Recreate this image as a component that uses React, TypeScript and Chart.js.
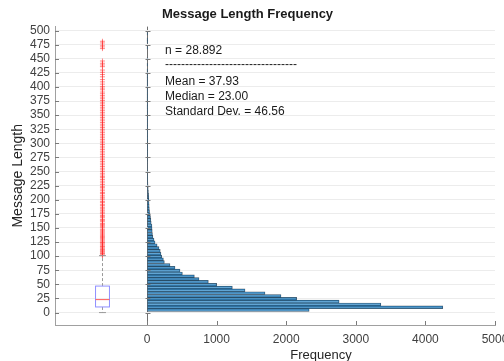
import React, { useEffect, useRef } from 'react';
import { Chart, registerables } from 'chart.js';

Chart.register(...registerables);

const FONT = '"Liberation Sans", Arial, Helvetica, sans-serif';

// Histogram (message length bins of width 5)
const binStart = 2;
const binWidth = 5;
const binCounts = [
  2330, 4250, 3360, 2760, 2150, 1925, 1695, 1408, 1226, 1001,
  881, 747, 680, 508, 474, 402, 330, 249, 235, 211,
  200, 190, 172, 145, 115, 100, 84, 78, 75, 72,
  70, 60, 55, 50, 44, 36, 33, 31, 29, 27,
  25, 23, 20, 17, 15, 13, 11, 10, 9, 9,
  8, 7, 7, 6, 6, 5, 5, 4, 4, 4,
  3, 3, 3, 3, 2, 2, 2, 2, 2, 2,
  2, 2, 1, 2, 1, 1, 1, 1, 1, 1,
  1, 1, 1, 1, 1, 1, 0, 1, 0, 1,
  0, 0, 0, 1, 0, 1, 1, 0, 1, 0,
];

// Boxplot: [min whisker, q1, median, q3, max whisker]
const boxStats = [0, 10, 23, 47, 101];
const boxCenter = -640;
const boxHalfWidth = 100;

const outlierLengths = [
  101, 102, 104, 105, 107, 108, 110, 112, 113, 115, 117, 118, 120, 122, 124, 125, 127, 129, 131, 133,
  135, 137, 139, 141, 143, 145, 147, 150, 152, 154, 156, 158, 161, 163, 165, 168, 170, 172, 175, 177,
  180, 182, 185, 187, 190, 192, 195, 197, 200, 203, 205, 208, 211, 213, 216, 219, 222, 224, 227, 230,
  233, 236, 239, 241, 244, 247, 250, 253, 256, 259, 262, 265, 268, 271, 274, 277, 280, 283, 286, 289,
  292, 295, 298, 301, 304, 307, 310, 313, 316, 319, 322, 325, 328, 331, 334, 337, 340, 343, 346, 349,
  352, 355, 358, 361, 364, 367, 370, 373, 376, 379, 382, 385, 388, 391, 395, 398, 401, 405, 409, 413,
  418, 422, 426, 430, 436, 439, 442, 446, 468, 471, 474, 478, 481,
];

const yTickValues = [0, 25, 50, 75, 100, 125, 150, 175, 200, 225, 250, 275, 300, 325, 350, 375, 400, 425, 450, 475, 500];
const xTickValues = [0, 1000, 2000, 3000, 4000, 5000];

const statLines = [
  'n = 28.892',
  '---------------------------------',
  'Mean = 37.93',
  'Median = 23.00',
  'Standard Dev. = 46.56',
];

const extrasPlugin = {
  id: 'extras',
  afterDatasetsDraw(chart: any) {
    const { ctx, scales, chartArea } = chart;
    const x = scales.x;
    const y = scales.y;
    ctx.save();
    // inner tick marks
    ctx.strokeStyle = '#7a7a7a';
    ctx.lineWidth = 1;
    const x0 = Math.round(x.getPixelForValue(0)) + 0.5;
    for (const v of yTickValues) {
      const py = Math.round(y.getPixelForValue(v)) + 0.5;
      ctx.beginPath();
      ctx.moveTo(chartArea.left, py);
      ctx.lineTo(chartArea.left + 4, py);
      ctx.moveTo(x0 - 2, py);
      ctx.lineTo(x0 + 3, py);
      ctx.stroke();
    }
    for (const v of xTickValues) {
      const px = Math.round(x.getPixelForValue(v)) + 0.5;
      ctx.beginPath();
      ctx.moveTo(px, chartArea.bottom);
      ctx.lineTo(px, chartArea.bottom - 4);
      ctx.stroke();
    }

    // boxplot
    const [mn, q1, med, q3, mx] = boxStats;
    const cx = Math.round(x.getPixelForValue(boxCenter)) + 0.5;
    const hw = Math.abs(x.getPixelForValue(boxCenter + boxHalfWidth) - x.getPixelForValue(boxCenter));
    const pMin = y.getPixelForValue(mn);
    const pQ1 = y.getPixelForValue(q1);
    const pMed = y.getPixelForValue(med);
    const pQ3 = y.getPixelForValue(q3);
    const pMax = y.getPixelForValue(mx);
    ctx.strokeStyle = '#9a9a9a';
    ctx.setLineDash([3, 2]);
    ctx.beginPath();
    ctx.moveTo(cx, pQ1);
    ctx.lineTo(cx, pMin);
    ctx.moveTo(cx, pQ3);
    ctx.lineTo(cx, pMax);
    ctx.stroke();
    ctx.setLineDash([]);
    ctx.beginPath();
    ctx.moveTo(cx - hw / 2, pMin);
    ctx.lineTo(cx + hw / 2, pMin);
    ctx.moveTo(cx - hw / 2, pMax);
    ctx.lineTo(cx + hw / 2, pMax);
    ctx.stroke();
    ctx.strokeStyle = '#8f8fff';
    ctx.strokeRect(cx - hw, pQ3, hw * 2, pQ1 - pQ3);
    ctx.strokeStyle = '#ff5a5a';
    ctx.beginPath();
    ctx.moveTo(cx - hw, pMed);
    ctx.lineTo(cx + hw, pMed);
    ctx.stroke();
    ctx.restore();
  },
  afterDraw(chart: any) {
    const { ctx, scales, chartArea } = chart;
    const x = scales.x;
    ctx.save();
    // stats text
    ctx.fillStyle = '#1a1a1a';
    ctx.font = `12px ${FONT}`;
    ctx.textAlign = 'left';
    ctx.textBaseline = 'middle';
    const tx = x.getPixelForValue(260);
    const rows = [51, 65, 82, 97, 112];
    statLines.forEach((line, i) => ctx.fillText(line, tx, rows[i]));
    // axis titles
    ctx.fillStyle = '#262626';
    ctx.font = `13px ${FONT}`;
    ctx.textAlign = 'center';
    ctx.fillText('Frequency', x.getPixelForValue(2500), 355);
    ctx.font = `14px ${FONT}`;
    ctx.translate(18, (chartArea.top + chartArea.bottom) / 2);
    ctx.rotate(-Math.PI / 2);
    ctx.fillText('Message Length', 0, 0);
    ctx.restore();
  },
};

export default function App() {
  const ref = useRef<HTMLCanvasElement>(null);
  useEffect(() => {
    if (!ref.current) return;
    const histData = binCounts.map((c, i) => ({ y: binStart + binWidth * (i + 0.5), x: c }));
    const outData = outlierLengths.map((v) => ({ x: boxCenter, y: v }));
    const chart = new Chart(ref.current, {
      type: 'bar',
      data: {
        datasets: [
          {
            type: 'bar',
            data: histData as any,
            indexAxis: 'y',
            backgroundColor: 'rgba(0,110,185,0.62)',
            borderColor: 'rgba(20,30,40,0.7)',
            borderWidth: 0.5,
            barPercentage: 1,
            categoryPercentage: 1,
          } as any,
          {
            type: 'scatter',
            data: outData as any,
            pointStyle: 'cross',
            radius: 2.5,
            borderColor: 'rgba(255,40,40,0.55)',
            backgroundColor: 'rgba(255,40,40,0.55)',
            borderWidth: 1,
          } as any,
        ],
      },
      options: {
        animation: false,
        responsive: false,
        indexAxis: 'y',
        layout: { padding: { left: 0, right: 9, top: 0, bottom: 0 } },
        plugins: {
          legend: { display: false },
          tooltip: { enabled: false },
          title: {
            display: true,
            text: 'Message Length Frequency',
            color: '#1a1a1a',
            font: { family: FONT, size: 13, weight: 'bold' },
            padding: { top: 7, bottom: 4 },
          },
        },
        scales: {
          x: {
            type: 'linear',
            min: -1322,
            max: 5000,
            offset: false,
            afterBuildTicks: (s: any) => {
              s.ticks = xTickValues.map((v) => ({ value: v }));
            },
            afterFit: (s: any) => {
              s.height = 36;
              s.paddingLeft = 0;
              s.paddingRight = 0;
            },
            grid: {
              drawTicks: false,
              offset: false,
              color: (c: any) => (c.tick && c.tick.value === 0 ? '#6e6e6e' : 'rgba(0,0,0,0)'),
            },
            border: { display: true, color: '#a0a0a0' },
            ticks: {
              padding: 7,
              color: '#404040',
              font: { family: FONT, size: 12 },
              maxRotation: 0,
              autoSkip: false,
              callback: (v: any) => String(v),
            },
          },
          y: {
            type: 'linear',
            min: -22,
            max: 507,
            offset: false,
            afterBuildTicks: (s: any) => {
              s.ticks = yTickValues.map((v) => ({ value: v }));
            },
            afterFit: (s: any) => {
              s.width = 55;
              s.paddingTop = 0;
              s.paddingBottom = 0;
            },
            grid: { drawTicks: false, offset: false, color: '#ececec' },
            border: { display: true, color: '#a0a0a0' },
            ticks: {
              padding: 5,
              color: '#404040',
              font: { family: FONT, size: 12 },
              autoSkip: false,
              callback: (v: any) => String(v),
            },
          },
        },
      } as any,
      plugins: [extrasPlugin],
    });
    return () => chart.destroy();
  }, []);
  return (
    <div style={{ position: 'fixed', left: 0, top: 0, width: 504, height: 361, background: '#fff' }}>
      <canvas ref={ref} width={504} height={361} style={{ display: 'block' }} />
    </div>
  );
}
